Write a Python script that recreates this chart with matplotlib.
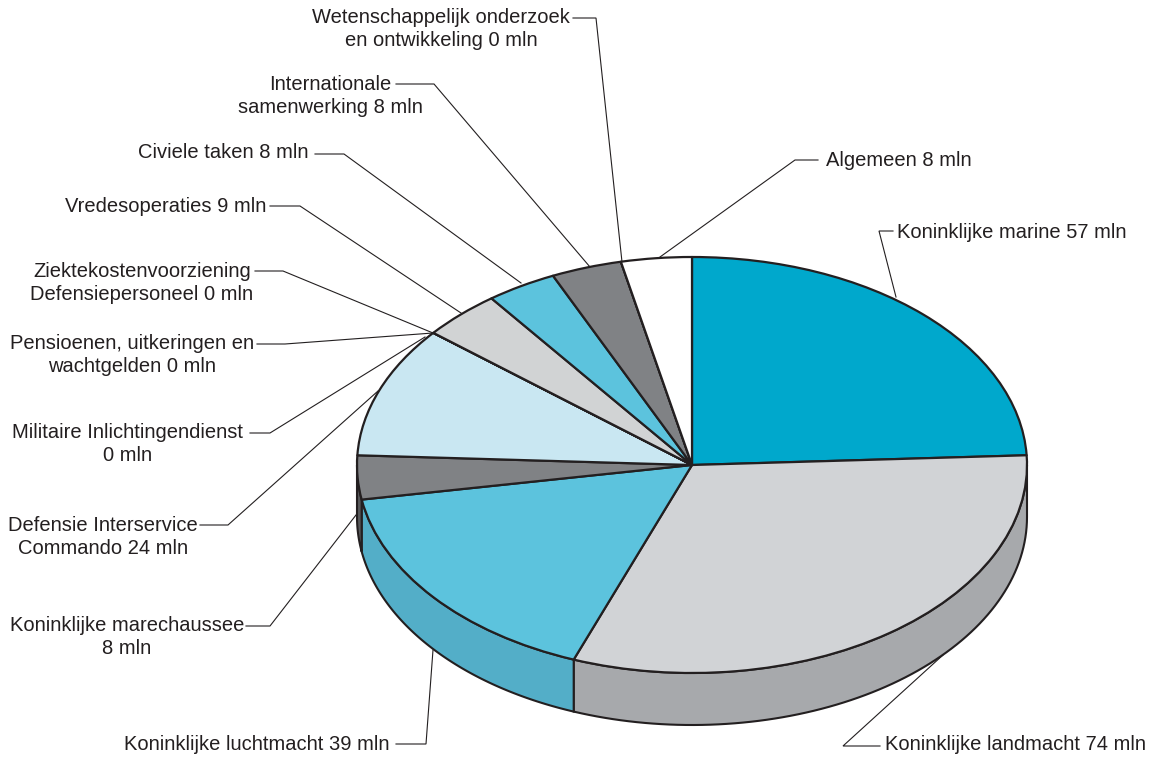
import numpy as np
from matplotlib import pyplot as plt
from matplotlib.patches import Polygon

plt.rcParams['font.family'] = ['Liberation Sans', 'DejaVu Sans']

# clockwise from the top of the pie
names = ["Koninklijke marine", "Koninklijke landmacht", "Koninklijke luchtmacht",
         "Koninklijke marechaussee", "Defensie Interservice Commando",
         "Militaire Inlichtingendienst", "Pensioenen", "Ziektekostenvoorziening",
         "Vredesoperaties", "Civiele taken", "Internationale samenwerking",
         "Wetenschappelijk onderzoek", "Algemeen"]
values = [57, 74, 39, 8, 24, 0, 0, 0, 9, 8, 8, 0, 8]
top_colors = ["#00a8cc", "#d1d3d6", "#5cc3dd", "#808285", "#c9e7f2", "#c9e7f2", "#c9e7f2",
              "#c9e7f2", "#d1d3d4", "#5cc3dd", "#808285", "#808285", "#ffffff"]
wall_colors = ["#00a8cc", "#a7a9ac", "#53aec8", "#58595b", "#58595b", "#58595b", "#58595b",
               "#58595b", "#a7a9ac", "#53aec8", "#58595b", "#58595b", "#ffffff"]

# text, x, y, ha (pixels of the reference)
labels = [
    ("Wetenschappelijk onderzoek\nen ontwikkeling 0 mln", 441, 29, "center"),
    ("Internationale\nsamenwerking 8 mln", 330, 96, "center"),
    ("Civiele taken 8 mln", 309, 153, "right"),
    ("Vredesoperaties 9 mln", 266, 206, "right"),
    ("Ziektekostenvoorziening\nDefensiepersoneel 0 mln", 142, 283, "center"),
    ("Pensioenen, uitkeringen en\nwachtgelden 0 mln", 132, 355, "center"),
    ("Militaire Inlichtingendienst\n0 mln", 128, 444, "center"),
    ("Defensie Interservice\nCommando 24 mln", 103, 537, "center"),
    ("Koninklijke marechaussee\n8 mln", 127, 637, "center"),
    ("Koninklijke luchtmacht 39 mln", 390, 745, "right"),
    ("Koninklijke landmacht 74 mln", 885, 745, "left"),
    ("Koninklijke marine 57 mln", 897, 232, "left"),
    ("Algemeen 8 mln", 826, 161, "left"),
]
leaders = [
    [(573, 18), (596, 18), (622, 262)],
    [(396, 84), (434, 84), (590, 267)],
    [(315, 154), (344, 154), (521, 283)],
    [(270, 206), (300, 206), (461, 313)],
    [(255, 271), (283, 271), (433, 333)],
    [(257, 344), (285, 344), (433, 333)],
    [(250, 433), (270, 433), (425, 337)],
    [(200, 525), (228, 525), (378, 391)],
    [(246, 626), (270, 626), (356, 515)],
    [(396, 744), (426, 744), (433, 650)],
    [(880, 746), (843, 746), (943, 655)],
    [(893, 231), (879, 231), (896, 297)],
    [(818, 160), (795, 160), (660, 257)],
]

W, H = 1153, 757
cx, cy, rx, ry = 692, 465, 335, 208
depth = 52 / ry
edge = "#231f20"

fig = plt.figure(figsize=(W / 100, H / 100), dpi=100)

# labels and leader lines, in pixels
back = fig.add_axes([0, 0, 1, 1])
back.set_xlim(0, W)
back.set_ylim(H, 0)
back.axis("off")
for pts in leaders:
    xs, ys = zip(*pts)
    back.plot(xs, ys, color=edge, lw=0.8, solid_joinstyle="miter")
for text, x, y, ha in labels:
    back.text(x, y, text, ha=ha, va="center", fontsize=14.5, color=edge, linespacing=1.25)

# the pie itself: unit circle squashed by the shape of the axes
ax = fig.add_axes([(cx - rx) / W, 1 - (cy + ry) / H, 2 * rx / W, 2 * ry / H])
ax.patch.set_alpha(0)
ax.pie(values, colors=top_colors, startangle=90, counterclock=False, radius=1,
       wedgeprops=dict(edgecolor=edge, linewidth=1.6, joinstyle="round"))
ax.set_aspect("auto")
ax.set_xlim(-1, 1)
ax.set_ylim(-1, 1)
ax.axis("off")

# side wall: clockwise angle from the top, only the front half shows
shares = np.array(values) / sum(values) * 360
ends = np.cumsum(shares)
starts = ends - shares
for a, b, c in zip(starts, ends, wall_colors):
    a, b = max(a, 90), min(b, 270)
    if b <= a:
        continue
    t = np.radians(np.linspace(a, b, 80))
    x, y = np.sin(t), np.cos(t)
    xy = np.r_[np.c_[x, y], np.c_[x, y - depth][::-1]]
    ax.add_patch(Polygon(xy, closed=True, facecolor=c, edgecolor=edge, linewidth=1.5,
                         clip_on=False, zorder=0.5))

fig.savefig("out.png", dpi=100)
